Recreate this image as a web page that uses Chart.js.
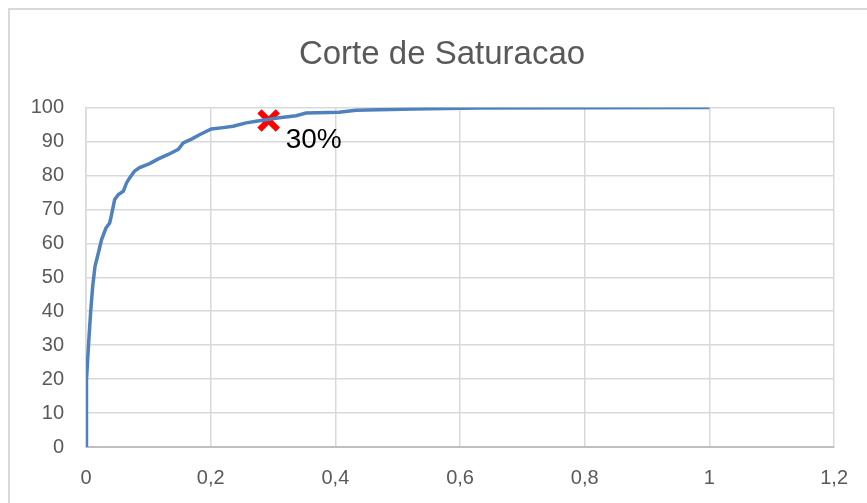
<!DOCTYPE html>
<html>
<head>
<meta charset="utf-8">
<script src="https://cdn.jsdelivr.net/npm/chart.js@4"></script>
<style>
    html, body { margin: 0; padding: 0; background: #fff; }
    #wrap { position: relative; width: 867px; height: 503px; overflow: hidden; }
    #frame { position: absolute; left: 8px; top: 8px; width: 900px; height: 540px;
             border-left: 2px solid #d9d9d9; border-top: 2px solid #d9d9d9; }
    canvas { position: absolute; left: 0; top: 0; }
</style>
</head>
<body>
<div id="wrap">
    <div id="frame"></div>
    <canvas id="saturacao" width="867" height="503"></canvas>
</div>
<script>
    // curve points (x = fraction, y = percent)
    const curveX = [0, 0.0005, 0.001, 0.004, 0.0075, 0.0107, 0.0144, 0.0197, 0.025, 0.032, 0.038, 0.041,
        0.046, 0.052, 0.060, 0.065, 0.070, 0.078, 0.086, 0.102, 0.116, 0.132, 0.148, 0.156, 0.170,
        0.182, 0.201, 0.220, 0.236, 0.257, 0.273, 0.310, 0.337, 0.353, 0.406, 0.433, 0.524, 0.630, 1.0];
    const curveY = [0, 9.9, 19.7, 30, 39.9, 47.3, 53.2, 57.1, 61.1, 64.5, 66, 68.5,
        72.9, 74.4, 75.4, 77.8, 79.3, 81.3, 82.3, 83.5, 84.9, 86.2, 87.7, 89.6, 90.8,
        92, 93.7, 94.1, 94.5, 95.5, 96, 97, 97.6, 98.4, 98.6, 99.2, 99.6, 99.9, 100];

    // cut-off marker
    const cutX = [0.293];
    const cutY = [96.2];
    const cutLabels = ["30%"];

    const xTicks = [0, 0.2, 0.4, 0.6, 0.8, 1, 1.2];

    const font = "'Liberation Sans', Arial, sans-serif";
    const gray = "#595959";
    const gridColor = "#d9d9d9";

    // writes the label next to each cut-off point
    const cutLabelPlugin = {
        id: "cutLabel",
        afterDatasetsDraw(chart) {
            const meta = chart.getDatasetMeta(1);
            const ctx = chart.ctx;
            ctx.save();
            ctx.font = "28px " + font;
            ctx.fillStyle = "#000";
            ctx.textBaseline = "top";
            meta.data.forEach((pt, i) => {
                ctx.fillText(cutLabels[i], pt.x + 17, pt.y + 6);
            });
            ctx.restore();
        }
    };

    new Chart("saturacao", {
        type: "scatter",
        data: {
            datasets: [{
                data: curveX.map((x, i) => ({ x: x, y: curveY[i] })),
                showLine: true,
                borderColor: "#4f81bd",
                borderWidth: 3.5,
                pointRadius: 0,
                tension: 0
            }, {
                data: cutX.map((x, i) => ({ x: x, y: cutY[i] })),
                pointStyle: "crossRot",
                pointRadius: 13,
                borderColor: "#ff0000",
                borderWidth: 6
            }]
        },
        options: {
            responsive: false,
            animation: false,
            // left padding keeps the title centred on the frame
            layout: { padding: { top: 20, left: 17, right: 0, bottom: 0 } },
            plugins: {
                legend: { display: false },
                tooltip: { enabled: false },
                title: {
                    display: true,
                    text: "Corte de Saturacao",
                    color: gray,
                    font: { family: font, size: 33, weight: "normal" },
                    padding: { top: 15, bottom: 33 }
                }
            },
            scales: {
                x: {
                    type: "linear",
                    min: 0,
                    max: 1.2,
                    afterBuildTicks: axis => { axis.ticks = xTicks.map(v => ({ value: v })); },
                    afterFit: axis => { axis.height = 56; },
                    grid: { color: gridColor, lineWidth: 1.5, drawTicks: false },
                    border: { color: "#bfbfbf", width: 2 },
                    ticks: {
                        color: gray,
                        padding: 19,
                        font: { family: font, size: 20 },
                        callback: v => String(Math.round(v * 10) / 10).replace(".", ",")
                    }
                },
                y: {
                    min: 0,
                    max: 100,
                    afterFit: axis => { axis.width = 69; },
                    grid: { color: gridColor, lineWidth: 1.5, drawTicks: false },
                    border: { color: gridColor, width: 1.5 },
                    ticks: {
                        stepSize: 10,
                        color: gray,
                        padding: 22,
                        font: { family: font, size: 20 }
                    }
                },
                // empty right-hand margin
                spacer: {
                    position: "right",
                    afterFit: axis => { axis.width = 32; },
                    grid: { display: false },
                    border: { display: false },
                    ticks: { display: false }
                }
            }
        },
        plugins: [cutLabelPlugin]
    });
</script>
</body>
</html>
